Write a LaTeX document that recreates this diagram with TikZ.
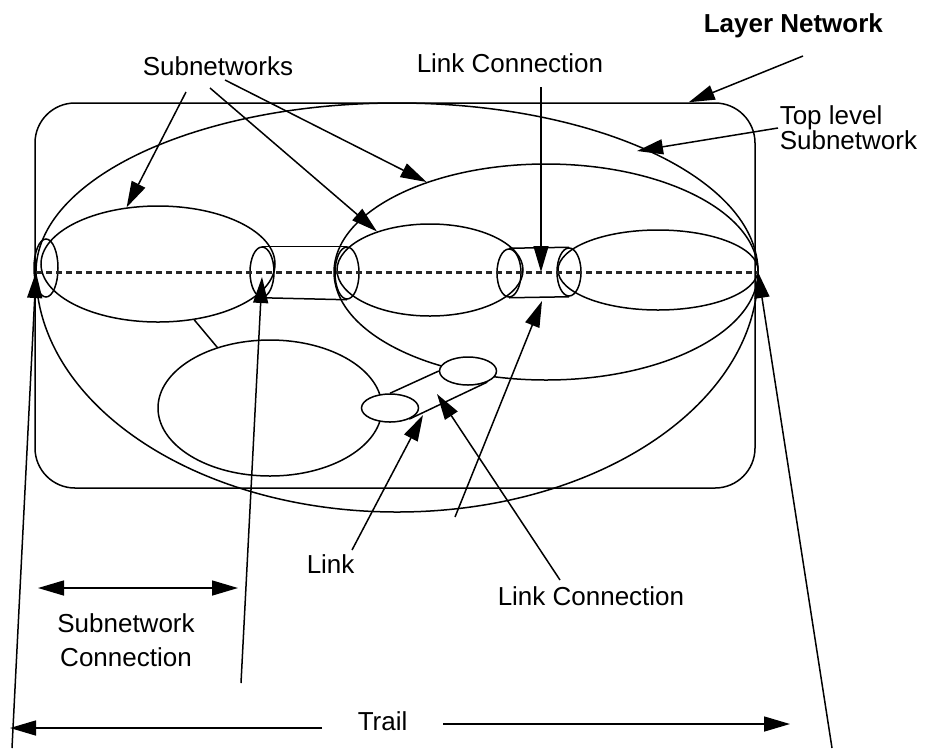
\documentclass[tikz,border=0pt]{standalone}
\usepackage{fontspec}
\setmainfont{Liberation Sans}
\usetikzlibrary{shapes.geometric,arrows.meta,calc}

\begin{document}
\begin{tikzpicture}[x=1pt,y=-1pt,line width=1.5pt,
  subnet/.style={draw,ellipse,inner sep=0pt},
  port/.style={draw,ellipse,inner sep=0pt,minimum width=24pt},
  linkend/.style={draw,ellipse,fill=white,inner sep=0pt,minimum width=57pt,minimum height=28pt},
  lbl/.style={font=\fontsize{26}{26}\selectfont,inner sep=0pt},
  arr/.style={-{Triangle[length=26pt,width=15pt]}},
  trailline/.style={line width=3pt,dash pattern=on 6pt off 4pt,black!85}]
\useasboundingbox (0,0) rectangle (925,748);

% layer network
\node[draw,rounded corners=40pt,minimum width=720pt,minimum height=385pt,inner sep=0pt] (layer) at (395,295.5) {};

% top level subnetwork, upper and lower half
\coordinate (trailA) at (36,272);
\coordinate (trailZ) at (758,272);
\draw (trailA) arc[start angle=180,end angle=360,x radius=361,y radius=169];
\draw (trailA) arc[start angle=180,end angle=0,x radius=361,y radius=240];

% subnetworks
\node[subnet,minimum width=234pt,minimum height=116pt] (lsub) at (158,264) {};
\node[subnet,minimum width=424pt,minimum height=216pt] (mrsub) at (546,272) {};
\node[subnet,minimum width=186pt,minimum height=92pt] (msub) at (430,270) {};
\node[subnet,minimum width=200pt,minimum height=80pt] (rsub) at (658,270) {};
\node[subnet,minimum width=224pt,minimum height=136pt] (lowsub) at (270,408) {};
\draw (lsub.-57) -- (lowsub.131);

% ports and link connections
\node[port,minimum height=58pt] (p1) at (46,268) {};
\node[port,minimum height=50pt] (p2) at (262,272) {};
\node[port,minimum height=52pt] (p3) at (347,273) {};
\node[port,minimum height=48pt] (p4) at (509,273) {};
\node[port,minimum height=48pt] (p5) at (569,272) {};
\draw (p2.north) -- (p3.north);
\draw (p2.south) -- (p3.south);
\draw (p4.north) -- (p5.north);
\draw (p4.south) -- (p5.south);

% the link
\node[linkend] (l1) at (390,408) {};
\node[linkend] (l2) at (468,371) {};
\draw (l1.north) -- (l2.west);
\draw (l1.-30) -- (l2.-30);

% trail
\draw[trailline] (trailA) -- (trailZ);

% labels
\node[lbl,anchor=base west] (subnets) at (142,75) {Subnetworks};
\node[lbl,anchor=base west] (lctop) at (416,72) {Link Connection};
\node[lbl,anchor=base west,font=\fontsize{26}{26}\selectfont\bfseries] (layerlbl) at (703,32) {Layer Network};
\node[lbl,anchor=north west,align=left,font=\fontsize{26}{24}\selectfont] (toplbl) at (779,105) {Top level\\Subnetwork};
\node[lbl,anchor=base west] (linklbl) at (306,573) {Link};
\node[lbl,anchor=base west] (lclow) at (497,605) {Link Connection};
\node[lbl,anchor=north,align=center,font=\fontsize{26}{34}\selectfont] (snclbl) at (126,613) {Subnetwork\\Connection};
\node[lbl,anchor=base west] (traillbl) at (357,730) {Trail};

% free ends of the arrows
\coordinate (s1) at (186,92);
\coordinate (s2) at (210,88);
\coordinate (s3) at (225,80);
\coordinate (lcA) at (541,87);
\coordinate (lcB) at (541,272);
\coordinate (layA) at (803,56);
\coordinate (tlA) at (778,128);
\coordinate (tlB) at (637,151);
\coordinate (linkA) at (352,550);
\coordinate (linkB) at (423,415);
\coordinate (lcl) at (560,580);
\coordinate (lcm) at (437,394);
\coordinate (lcr) at (455,517);
\coordinate (lcc) at (542,301);
\coordinate (sncA) at (241,683);
\coordinate (sncB) at (262,277);
\coordinate (sncL) at (38,588);
\coordinate (sncR) at (238,588);
\coordinate (trL) at (10,728);
\coordinate (trA) at (322,728);
\coordinate (trB) at (443,724);
\coordinate (trR) at (790,724);
\coordinate (bL) at (12,748);
\coordinate (bR) at (832,748);

% arrows
\draw[arr] (s1) -- (lsub.119);
\draw[arr] (s2) -- (msub.144);
\draw[arr] (s3) -- (mrsub.143);
\draw[arr] (lcA) -- (lcB);
\draw[arr] (layA) -- ([xshift=-67pt]layer.north east);
\draw[arr] (tlA) -- (tlB);
\draw[arr] (linkA) -- (linkB);
\draw[arr] (lcl) -- (lcm);
\draw[arr] (lcr) -- (lcc);
\draw[arr] (sncA) -- (sncB);
\draw[{Triangle[length=26pt,width=15pt]}-{Triangle[length=26pt,width=15pt]}] (sncL) -- (sncR);
\draw[arr] (trA) -- (trL);
\draw[arr] (trB) -- (trR);
\draw[arr] (bL) -- (trailA);
\draw[arr] (bR) -- (trailZ);
\end{tikzpicture}
\end{document}
